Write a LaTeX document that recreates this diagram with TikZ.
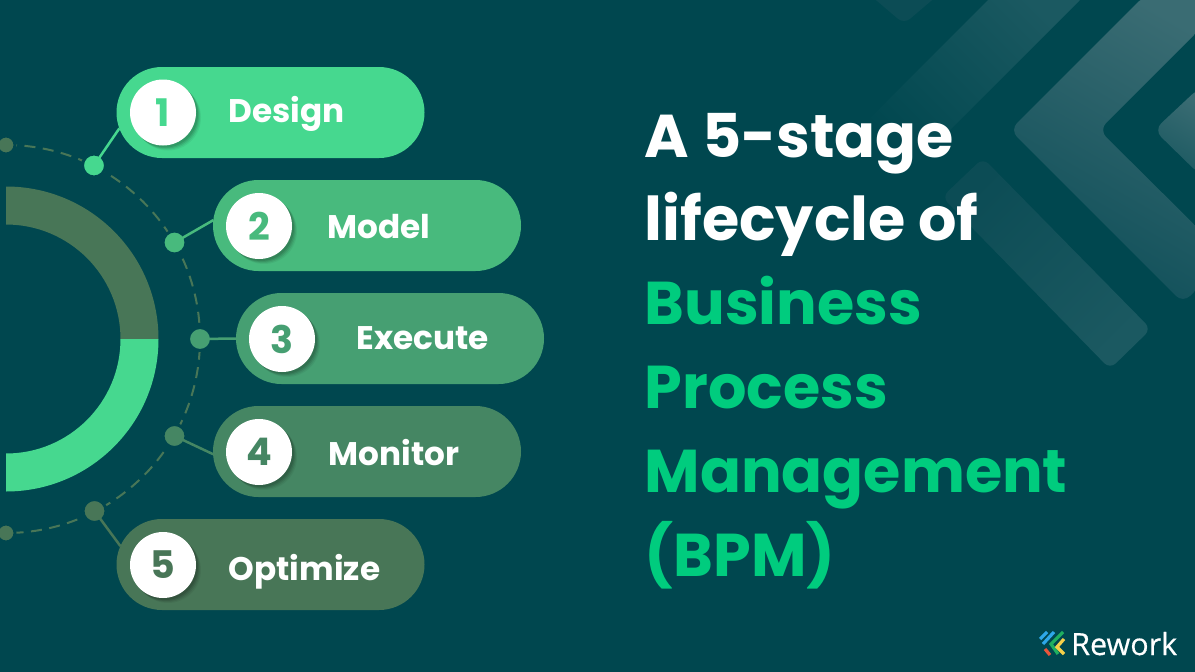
\documentclass[tikz,border=0pt]{standalone}
\usepackage{fontspec}
\usepackage{tikz}
\usetikzlibrary{shapes.misc}
\usetikzlibrary{shadows}
\setmainfont{Poppins}
\newfontfamily\logofont{Open Sans}[FakeBold=0.4]
\definecolor{bgteal}{HTML}{00474F}
\definecolor{stageA}{HTML}{46D88F}
\definecolor{stageB}{HTML}{48BA7D}
\definecolor{stageC}{HTML}{469F72}
\definecolor{stageD}{HTML}{458663}
\definecolor{stageE}{HTML}{487657}
\definecolor{titlegreen}{HTML}{00CC7E}
\definecolor{chevlight}{HTML}{3A6C73}
\definecolor{chevmid}{HTML}{1B5961}
\definecolor{chevdark}{HTML}{0F4F59}
\definecolor{chevfaint}{HTML}{0C4C55}
\definecolor{logoblue}{HTML}{2EA7E8}
\definecolor{logogreen}{HTML}{1FB060}
\definecolor{logoyellow}{HTML}{F5D04A}
\definecolor{logored}{HTML}{E8553A}
\tikzstyle{pill} = [rounded rectangle, minimum width=308pt, minimum height=91pt, inner sep=0pt, outer sep=0pt]
\tikzstyle{num} = [circle, fill=white, minimum size=66pt, inner sep=0pt, font=\bfseries\fontsize{38}{38}\selectfont,
  drop shadow={shadow xshift=5pt, shadow yshift=-5pt, opacity=.05, fill=black},
  drop shadow={shadow xshift=4pt, shadow yshift=-4pt, opacity=.07, fill=black},
  drop shadow={shadow xshift=3pt, shadow yshift=-3pt, opacity=.09, fill=black},
  drop shadow={shadow xshift=2pt, shadow yshift=-2pt, opacity=.1, fill=black}]
\tikzstyle{stage} = [anchor=base west, inner sep=0pt, text=white, font=\bfseries\fontsize{32.7}{33}\selectfont]
\tikzstyle{headline} = [anchor=base west, inner sep=0pt, font=\bfseries\fontsize{60.4}{60}\selectfont]
\tikzstyle{dot} = [circle, draw=bgteal, line width=3pt, minimum size=23pt, inner sep=0pt]
\tikzstyle{enddot} = [circle, draw=bgteal, fill=stageE, line width=3pt, minimum size=18pt, inner sep=0pt]
\tikzstyle{tie} = [line width=2.5pt]
\tikzstyle{logobar} = [line width=3.2pt]
\begin{document}
\begin{tikzpicture}[x=1pt,y=-1pt]
\useasboundingbox (0,0) rectangle (1195,672);
\fill[bgteal] (0,0) rectangle (1195,672);
\begin{scope}
\clip (0,0) rectangle (1195,672);
\fill[rounded corners=8pt, chevfaint] (870,-5) -- (904,24) -- (938,-5) -- cycle;
\shade[rounded corners=8pt, top color=chevmid, bottom color=bgteal, shading angle=-45] (993,-5) -- (860,128) -- (905,175) -- (1085,-5) -- cycle;
\shade[rounded corners=8pt, top color=chevmid, bottom color=chevfaint, shading angle=225] (983,158) -- (942,197) -- (1110,369) -- (1151,329) -- cycle;
\shade[rounded corners=10pt, top color=chevlight, bottom color=chevdark, shading angle=-30] (1145,-5) -- (1010,130) -- (1183,303) -- (1228,258) -- (1099,130) -- (1234,-5) -- cycle;
\shade[rounded corners=10pt, top color=chevlight, bottom color=chevmid, shading angle=-30] (1200,87) -- (1154,130) -- (1200,175) -- cycle;
\end{scope}
\fill[stageE] (6,186.5) arc[start angle=-90, end angle=0, radius=152.5] -- (120.5,339) arc[start angle=0, end angle=-90, radius=114.5] -- cycle;
\fill[stageA] (158.5,339) arc[start angle=0, end angle=90, radius=152.5] -- (6,453.5) arc[start angle=90, end angle=0, radius=114.5] -- cycle;
\draw[stageE, line width=2pt, dash pattern=on 11pt off 7.5pt] (6,145) arc[start angle=-90, end angle=90, radius=194];
\node[enddot] (endtop) at (6,145) {};
\node[enddot] (endbot) at (6,533) {};
\node[dot, fill=stageA] (dot1) at (94,165.5) {};
\node[dot, fill=stageB] (dot2) at (174.5,242.5) {};
\node[dot, fill=stageC] (dot3) at (200,339) {};
\node[dot, fill=stageD] (dot4) at (174.5,436) {};
\node[dot, fill=stageE] (dot5) at (94.5,511) {};
\node[pill, fill=stageA] (pill1) at (270.5,112.5) {};
\node[pill, fill=stageB] (pill2) at (367,225.5) {};
\node[pill, fill=stageC] (pill3) at (390,338.5) {};
\node[pill, fill=stageD] (pill4) at (367,451.5) {};
\node[pill, fill=stageE] (pill5) at (270.5,564.5) {};
\draw[tie, stageA] (dot1.center) -- (pill1.186.6);
\draw[tie, stageB] (dot2.center) -- (pill2.178.7);
\draw[tie, stageC] (dot3.center) -- (pill3.west);
\draw[tie, stageD] (dot4.center) -- (pill4.181.7);
\draw[tie, stageE] (dot5.center) -- (pill5.173.4);
\node[num, text=stageA] (num1) at (163,112.5) {1};
\node[num, text=stageB] (num2) at (259,226) {2};
\node[num, text=stageC] (num3) at (282,339) {3};
\node[num, text=stageD] (num4) at (259,452) {4};
\node[num, text=stageE] (num5) at (163,565) {5};
\node[stage] (design) at (228.5,122) {Design};
\node[stage] (model) at (327.5,238) {Model};
\node[stage] (execute) at (356.5,349) {Execute};
\node[stage] (monitor) at (328.5,465) {Monitor};
\node[stage] (optimize) at (228.5,580) {Optimize};
\node[headline, text=white] (line1) at (644.5,157) {A 5-stage};
\node[headline, text=white] (line2) at (644.5,240) {lifecycle of};
\node[headline, text=titlegreen] (line3) at (644.5,324) {Business};
\node[headline, text=titlegreen] (line4) at (644.5,408) {Process};
\node[headline, text=titlegreen] (line5) at (644.5,492) {Management};
\node[headline, text=titlegreen] (line6) at (644.5,576) {(BPM)};
\draw[logobar, logoblue] (1040,639) -- (1047,632);
\draw[logobar, logoblue] (1043,644) -- (1054,632);
\draw[logobar, logogreen] (1063,632) -- (1051,644) -- (1058,654);
\draw[logobar, logoyellow] (1064,639) -- (1057,647) -- (1064,654);
\draw[logobar, logored] (1045,649) -- (1050,655);
\node[anchor=base west, inner sep=0pt, text=white, font=\logofont\fontsize{30.5}{31}\selectfont] (logotext) at (1071,655) {Rework};
\end{tikzpicture}
\end{document}
